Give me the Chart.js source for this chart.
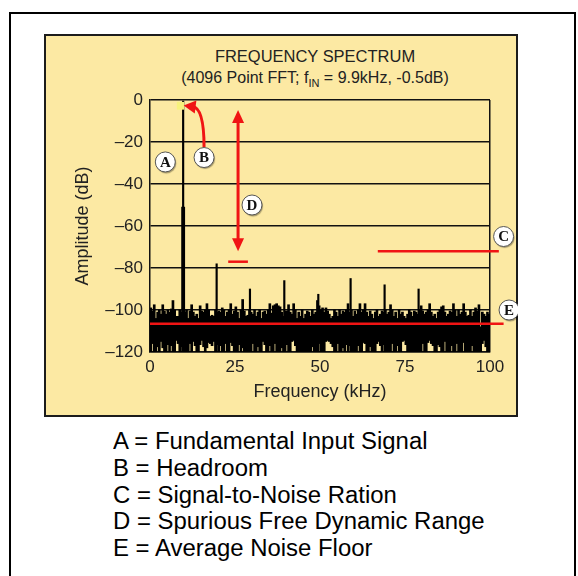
<!DOCTYPE html>
<html>
<head>
<meta charset="utf-8">
<script src="https://cdn.jsdelivr.net/npm/chart.js@4.4.1/dist/chart.umd.min.js"></script>
<style>
  html, body { margin: 0; padding: 0; background: #fff; }
  body { width: 578px; height: 576px; position: relative; overflow: hidden; font-family: "Liberation Sans", Arial, Helvetica, sans-serif; }
  #frame { position: absolute; left: 9px; top: 12px; width: 563px; height: 600px; border: 2px solid #000; }
  #panel { position: absolute; left: 44px; top: 34px; width: 470px; height: 379px; border: 2px solid #1c1c1c; background: #fce9a3; }
  #chart { position: absolute; left: 44px; top: 34px; }
  .title { position: absolute; left: 145px; width: 340px; text-align: center; color: #222; font-size: 16px; line-height: 18px; white-space: nowrap; }
  #t1 { top: 48px; transform: scaleX(1.03); }
  #t2 { top: 69px; }
  #t2 sub { font-size: 11px; vertical-align: -4px; line-height: 0; }
  #key { position: absolute; left: 113px; top: 428px; font-size: 23px; line-height: 26.8px; color: #000; white-space: nowrap; transform: scaleX(1.04); transform-origin: left top; }
</style>
</head>
<body>
<div id="frame"></div>
<div id="panel"></div>
<div class="title" id="t1">FREQUENCY SPECTRUM</div>
<div class="title" id="t2">(4096 Point FFT; f<sub>IN</sub> = 9.9kHz, -0.5dB)</div>
<canvas id="chart" width="474" height="383"></canvas>
<div id="key">
  <div>A = Fundamental Input Signal</div>
  <div>B = Headroom</div>
  <div>C = Signal-to-Noise Ration</div>
  <div>D = Spurious Free Dynamic Range</div>
  <div>E = Average Noise Floor</div>
</div>
<script>
// FFT bins shown as 0.5 kHz columns (top / bottom of the noise band, dB)
const noiseStartKHz = 0.25;
const noiseStepKHz = 0.5;

const noiseTop = [
  -99, -100.5, -97.5, -104, -101, -100, -102, -97.5, -100.5, -102, -100, -101, -99.5, -95.5, -100, -103, -103, -100, -101, -99,
  -101, -100, -104, -100.5, -97.5, -101, -103, -102, -104, -98, -100.5, -101, -100, -97, -100, -103, -102.5, -103, -100, -101,
  -100.5, -101, -99, -100, -103, -101, -100, -97, -102, -100.5, -98.5, -101, -104, -100, -95, -100.5, -103, -102.5, -100, -101,
  -102, -100, -103, -101, -100, -104, -101, -100.5, -102, -100, -97, -101.5, -98, -97.5, -97, -98, -98.5, -101, -103, -100.5,
  -100.5, -97.5, -101, -102, -97, -100, -104, -101, -103, -100, -104, -102, -100.5, -101, -103, -100, -102, -101, -95.5, -98,
  -100, -99, -101, -99, -100.5, -102, -104, -103, -100, -101, -103, -100, -102, -100.5, -101, -100, -97, -101, -100, -103,
  -100.5, -102, -100, -97, -101, -100, -97, -101, -103, -100.5, -102, -104, -101, -100, -103, -102, -100.5, -101, -100, -102,
  -101, -97.5, -100, -103, -101, -104, -100, -102, -101, -103, -104, -102, -100, -101, -103, -100.5, -101, -102, -100, -98,
  -100.5, -102, -101, -100, -97, -101, -103, -102, -104, -101, -100, -98.5, -98, -101, -103, -102, -100.5, -101, -97, -100,
  -103, -100, -102, -101, -97, -101, -103, -102.5, -100, -103, -101, -99, -100.5, -97.5, -108, -101, -102, -103, -101, -102
];

const noiseLow = [
  -120, -116, -120, -120, -117.5, -120, -115, -118, -120, -120, -116.5, -120, -117, -120, -120, -114.5, -116, -120, -117.5, -120,
  -120, -120, -120, -116, -120, -115, -117, -120, -120, -116.5, -114.5, -117.5, -120, -118, -115.5, -116, -117, -115, -120, -116.5,
  -120, -117, -120, -120, -116, -120, -120, -115.5, -117, -120, -120, -120, -116.5, -120, -118, -120, -120, -120, -120, -120,
  -116, -120, -120, -117.5, -120, -120, -115, -116.5, -120, -120, -117, -120, -120, -116, -120, -120, -120, -118, -120, -120,
  -116.5, -120, -120, -115, -114.5, -117, -120, -120, -120, -120, -120, -120, -120, -120, -120, -117.5, -120, -120, -120, -116,
  -120, -120, -120, -115, -114.5, -115, -116, -117.5, -120, -120, -116, -120, -120, -118, -120, -116.5, -120, -117, -120, -120,
  -120, -120, -117, -120, -120, -115.5, -116, -120, -120, -117.5, -120, -120, -120, -116, -115, -117, -120, -116.5, -120, -120,
  -120, -120, -116, -120, -120, -117, -120, -120, -115, -114.5, -116.5, -120, -120, -120, -120, -120, -120, -120, -120, -120,
  -116, -120, -120, -115.5, -114.5, -116, -117, -120, -120, -116.5, -117.5, -120, -120, -115, -120, -120, -120, -117, -120, -120,
  -116, -120, -120, -120, -115.5, -120, -120, -120, -120, -117, -120, -120, -120, -120, -120, -116, -114.5, -117.5, -120, -120
];

// fundamental, its skirt, harmonics and other spurs
const spurFreq  = [9.75, 9.5, 10.0, 19.6, 29.4, 39.5, 49.5, 59.0, 69.0, 79.0];
const spurLevel = [-0.5, -51, -51, -78, -90, -86, -92.5, -85, -88, -90];

const xTicks = [0, 25, 50, 75, 100];
const yMin = -120, yMax = 0, yStep = 20;

const noiseData = noiseTop.map((hi, i) => ({ x: noiseStartKHz + i * noiseStepKHz, y: [noiseLow[i], hi] }));
const spurData = spurFreq.map((f, i) => ({ x: f, y: [yMin, spurLevel[i]] }));

const RED = '#f01414';

function arrowHead(ctx, tx, ty, dx, dy, len, half) {
    const l = Math.hypot(dx, dy);
    dx /= l; dy /= l;
    const bx = tx - dx * len, by = ty - dy * len;
    ctx.beginPath();
    ctx.moveTo(tx, ty);
    ctx.lineTo(bx - dy * half, by + dx * half);
    ctx.lineTo(bx + dy * half, by - dx * half);
    ctx.closePath();
    ctx.fill();
}

// annotation marks in data units (kHz, dB)
const notes = {
    peakBox: { x0: 7.9, x1: 10.0, y0: -0.9, y1: -4.6 },
    eLine: { x0: 0, x1: 104, y: -106.5 },
    cLine: { x0: 67, x1: 102.6, y: -72 },
    dArrow: { x: 25.9, y0: -4.8, y1: -72 },
    dBase: { x0: 23, x1: 28.8, y: -77 },
    bCurve: { sx: 15.9, sy: -22.5, cx: 15.9, cy: -3.8, ex: 9.9, ey: -2.6 },
    circles: [
        { t: 'A', x: 4.5, y: -29.5 },
        { t: 'B', x: 15.9, y: -27.4 },
        { t: 'C', x: 104, y: -65 },
        { t: 'D', x: 30, y: -50 },
        { t: 'E', x: 105.6, y: -100 }
    ]
};

const annotationPlugin = {
    id: 'annotations',
    afterDatasetsDraw(chart) {
        const { ctx, scales: { x, y } } = chart;
        const px = v => x.getPixelForValue(v);
        const py = v => y.getPixelForValue(v);
        ctx.save();

        // peak marker
        const pb = notes.peakBox;
        ctx.fillStyle = '#f7f27c';
        ctx.fillRect(px(pb.x0), py(pb.y0), px(pb.x1) - px(pb.x0), py(pb.y1) - py(pb.y0));

        ctx.strokeStyle = RED;
        ctx.fillStyle = RED;
        ctx.lineCap = 'butt';

        // E: average noise floor
        ctx.lineWidth = 2.5;
        ctx.beginPath();
        ctx.moveTo(px(notes.eLine.x0), py(notes.eLine.y));
        ctx.lineTo(px(notes.eLine.x1), py(notes.eLine.y));
        ctx.stroke();

        // C: SNR level
        ctx.beginPath();
        ctx.moveTo(px(notes.cLine.x0), py(notes.cLine.y));
        ctx.lineTo(px(notes.cLine.x1), py(notes.cLine.y));
        ctx.stroke();

        // D: small level mark
        ctx.beginPath();
        ctx.moveTo(px(notes.dBase.x0), py(notes.dBase.y));
        ctx.lineTo(px(notes.dBase.x1), py(notes.dBase.y));
        ctx.stroke();

        // D: double arrow
        const dx = px(notes.dArrow.x), dTop = py(notes.dArrow.y0), dBot = py(notes.dArrow.y1);
        ctx.lineWidth = 3;
        ctx.beginPath();
        ctx.moveTo(dx, dTop + 10);
        ctx.lineTo(dx, dBot - 10);
        ctx.stroke();
        arrowHead(ctx, dx, dTop, 0, -1, 13, 6);
        arrowHead(ctx, dx, dBot, 0, 1, 13, 6);

        // B: curved arrow to the peak
        const b = notes.bCurve;
        const sx = px(b.sx), sy = py(b.sy), cx = px(b.cx), cy = py(b.cy), ex = px(b.ex), ey = py(b.ey);
        const tdx = ex - cx, tdy = ey - cy, tl = Math.hypot(tdx, tdy);
        const stopX = ex - tdx / tl * 9, stopY = ey - tdy / tl * 9;
        ctx.beginPath();
        ctx.moveTo(sx, sy);
        ctx.quadraticCurveTo(cx, cy, stopX, stopY);
        ctx.stroke();
        arrowHead(ctx, ex, ey, tdx, tdy, 12, 6.5);

        // letter circles
        ctx.textAlign = 'center';
        ctx.textBaseline = 'middle';
        ctx.font = 'bold 15px "Liberation Serif", "DejaVu Serif", serif';
        notes.circles.forEach(c => {
            const cxp = px(c.x), cyp = py(c.y);
            ctx.save();
            ctx.shadowColor = 'rgba(0,0,0,0.35)';
            ctx.shadowOffsetX = 1;
            ctx.shadowOffsetY = 1.5;
            ctx.shadowBlur = 1;
            ctx.fillStyle = '#fff';
            ctx.beginPath();
            ctx.arc(cxp, cyp, 10, 0, Math.PI * 2);
            ctx.fill();
            ctx.restore();
            ctx.lineWidth = 1;
            ctx.strokeStyle = '#555';
            ctx.beginPath();
            ctx.arc(cxp, cyp, 10, 0, Math.PI * 2);
            ctx.stroke();
            ctx.fillStyle = '#111';
            ctx.fillText(c.t, cxp, cyp + 1);
        });

        ctx.restore();
    }
};

Chart.defaults.font.family = '"Liberation Sans", Arial, Helvetica, sans-serif';
Chart.defaults.color = '#222';

new Chart(document.getElementById('chart'), {
    type: 'bar',
    data: {
        datasets: [
            { label: 'Noise', data: noiseData, backgroundColor: '#000', borderWidth: 0, barThickness: 2, stack: 'fft' },
            { label: 'Spurs', data: spurData, backgroundColor: '#000', borderWidth: 0, barThickness: 1.5, stack: 'fft' }
        ]
    },
    options: {
        responsive: false,
        animation: false,
        layout: { padding: { top: 66, right: 28, left: 0, bottom: 0 } },
        plugins: {
            legend: { display: false },
            tooltip: { enabled: false }
        },
        scales: {
            x: {
                type: 'linear',
                min: 0,
                max: 100,
                offset: false,
                afterBuildTicks: scale => { scale.ticks = xTicks.map(v => ({ value: v })); },
                afterFit: scale => { scale.height = 65; },
                grid: {
                    offset: false,
                    drawTicks: false,
                    lineWidth: 1.5,
                    color: c => (c.tick && c.tick.value === 100 ? '#111' : 'rgba(0,0,0,0)')
                },
                border: { color: '#111', width: 1.5 },
                ticks: { padding: 5, font: { size: 17 }, color: '#222', maxRotation: 0 },
                title: { display: true, text: 'Frequency (kHz)', font: { size: 18 }, color: '#222', padding: { top: 0, bottom: 14 } }
            },
            y: {
                type: 'linear',
                min: yMin,
                max: yMax,
                stacked: false,
                afterFit: scale => { scale.width = 106; },
                grid: { drawTicks: false, color: '#111', lineWidth: 1.5 },
                border: { color: '#111', width: 1.5 },
                ticks: {
                    stepSize: yStep,
                    padding: 7,
                    font: { size: 17 },
                    color: '#222',
                    callback: v => (v === 0 ? '0' : '\u2013' + Math.abs(v))
                },
                title: { display: true, text: 'Amplitude (dB)', font: { size: 18 }, color: '#222', padding: { top: 28, bottom: 0 } }
            }
        }
    },
    plugins: [annotationPlugin]
});
</script>
</body>
</html>
